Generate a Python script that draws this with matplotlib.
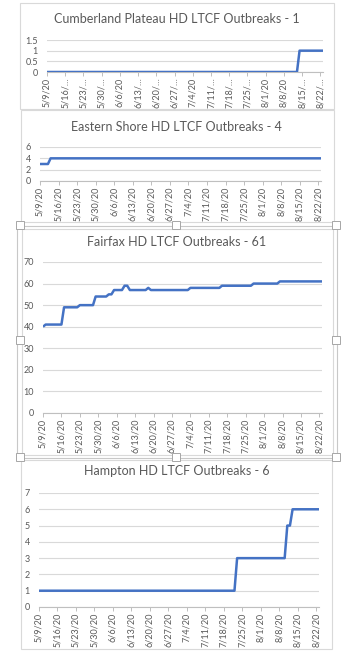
import matplotlib
matplotlib.use("Agg")
import matplotlib.pyplot as plt
from matplotlib.patches import Rectangle
import pandas as pd

start = "2020-05-09"
end = "2020-08-23"

tick_dates = ["2020-05-09", "2020-05-16", "2020-05-23", "2020-05-30", "2020-06-06",
              "2020-06-13", "2020-06-20", "2020-06-27", "2020-07-04", "2020-07-11",
              "2020-07-18", "2020-07-25", "2020-08-01", "2020-08-08", "2020-08-15",
              "2020-08-22"]
tick_labels = ["5/9/20", "5/16/20", "5/23/20", "5/30/20", "6/6/20", "6/13/20", "6/20/20",
               "6/27/20", "7/4/20", "7/11/20", "7/18/20", "7/25/20", "8/1/20", "8/8/20",
               "8/15/20", "8/22/20"]
tick_labels_short = ["5/9/20", "5/16/…", "5/23/…", "5/30/…", "6/6/20", "6/13/…", "6/20/…",
                     "6/27/…", "7/4/20", "7/11/…", "7/18/…", "7/25/…", "8/1/20", "8/8/20",
                     "8/15/…", "8/22/…"]

titles = ["Cumberland Plateau HD LTCF Outbreaks - 1",
          "Eastern Shore HD LTCF Outbreaks - 4",
          "Fairfax HD LTCF Outbreaks - 61",
          "Hampton HD LTCF Outbreaks - 6"]

# value changes: (date the new value starts, value)
cumberland_dates = ["2020-05-09", "2020-08-14"]
cumberland_vals = [0, 1]

eastern_dates = ["2020-05-09", "2020-05-13"]
eastern_vals = [3, 4]

fairfax_dates = ["2020-05-09", "2020-05-10", "2020-05-17", "2020-05-23", "2020-05-29",
                 "2020-06-03", "2020-06-05", "2020-06-09", "2020-06-11", "2020-06-18",
                 "2020-06-19", "2020-07-04", "2020-07-16", "2020-07-28", "2020-08-07"]
fairfax_vals = [40, 41, 49, 50, 54, 55, 57, 59, 57, 58, 57, 58, 59, 60, 61]

hampton_dates = ["2020-05-09", "2020-07-23", "2020-08-11", "2020-08-13"]
hampton_vals = [1, 3, 5, 6]

yticks_list = [[0, 0.5, 1, 1.5], [0, 2, 4, 6], list(range(0, 80, 10)), list(range(0, 8))]
ytick_text = [["0", "0.5", "1", "1.5"], None, None, None]


def daily(dates, vals):
    s = pd.Series(vals, index=pd.to_datetime(dates), dtype=float)
    idx = pd.date_range(start, end, freq="D")
    return s.reindex(idx).ffill()


series = [daily(cumberland_dates, cumberland_vals),
          daily(eastern_dates, eastern_vals),
          daily(fairfax_dates, fairfax_vals),
          daily(hampton_dates, hampton_vals)]

W, H = 357, 662
fig = plt.figure(figsize=(W / 100, H / 100), dpi=100)
plt.rcParams['font.family'] = ['Lato', 'DejaVu Sans']

TXT = "#595959"
GRID = "#d9d9d9"
BLUE = "#4472c4"


def frame(x0, y0, x1, y1, color="#d9d9d9", lw=0.8, fill=False, fc="white"):
    r = Rectangle((x0 / W, 1 - y1 / H), (x1 - x0) / W, (y1 - y0) / H,
                  transform=fig.transFigure, fill=fill, facecolor=fc,
                  edgecolor=color, lw=lw, zorder=5)
    fig.patches.append(r)


# chart borders
frame(20, 3, 334, 109)
frame(21, 110, 334, 222)
frame(17, 226, 337, 458, color="#c8c8c8")
frame(22, 229, 333, 455)
frame(21, 460, 332, 649)

# selection handles around the Fairfax chart
for hx, hy in [(19.5, 224.5), (176, 224.5), (336, 224.5), (19.5, 340), (336, 340),
               (19.5, 457), (176, 457), (336, 457)]:
    frame(hx - 4, hy - 4, hx + 4, hy + 4, color="#a6a6a6", lw=0.7, fill=True)

# (axes box in px, title y in px)
layout = [((47, 40, 323, 72), 19),
          ((40, 147, 321, 181), 127),
          ((43, 262, 322, 413), 242),
          ((39, 493, 319, 607), 471)]

ticks = pd.to_datetime(tick_dates)
for i, ((x0, y0, x1, y1), ty) in enumerate(layout):
    ax = fig.add_axes([x0 / W, 1 - y1 / H, (x1 - x0) / W, (y1 - y0) / H])
    s = series[i]
    ax.plot(s.index, s.values, color=BLUE, lw=1.8, solid_capstyle="butt", zorder=3)
    ax.set_xlim(s.index[0], s.index[-1])
    yt = yticks_list[i]
    ax.set_ylim(yt[0], yt[-1])
    ax.set_yticks(yt)
    if ytick_text[i]:
        ax.set_yticklabels(ytick_text[i])
    ax.set_xticks(ticks)
    ax.set_xticklabels(tick_labels_short if i == 0 else tick_labels, rotation=90)
    ax.grid(axis="y", color=GRID, lw=0.8)
    ax.set_axisbelow(True)
    for sp in ["top", "right", "left"]:
        ax.spines[sp].set_visible(False)
    ax.spines["bottom"].set_color("#bfbfbf")
    ax.spines["bottom"].set_linewidth(0.8)
    ax.tick_params(axis="x", colors="#bfbfbf", labelcolor=TXT, labelsize=6.5,
                   length=3, width=0.7, pad=1)
    ax.tick_params(axis="y", length=0, labelcolor=TXT, labelsize=6.5, pad=6.5)
    fig.text(176.5 / W, 1 - ty / H, titles[i], ha="center", va="center",
             fontsize=9, color=TXT)

fig.savefig("out.png", dpi=100)
